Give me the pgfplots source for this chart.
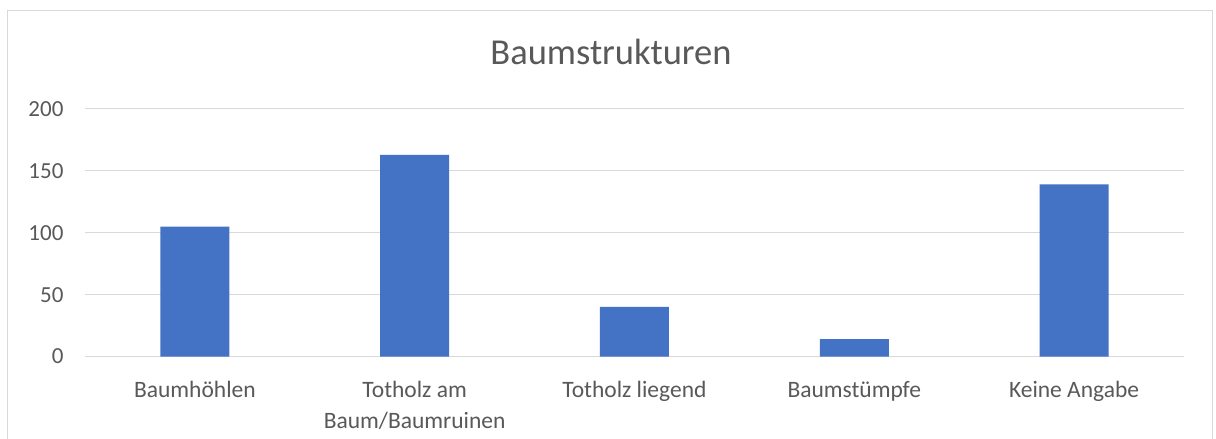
\documentclass[border=0pt]{standalone}
\usepackage{fontspec}
\setmainfont{Carlito}
\usepackage{pgfplots}
\pgfplotsset{compat=1.18}
\definecolor{barblue}{HTML}{4472C4}
\definecolor{txtgray}{HTML}{595959}
\definecolor{gridgray}{HTML}{D9D9D9}
\begin{document}
\begin{tikzpicture}[x=1pt,y=1pt]
\path[use as bounding box] (-85,-82.5) rectangle (1131,356.5);
\fill[white] (-85,-82.5) rectangle (1131,356.5);
\draw[gridgray, line width=1.2pt] (-77.5,-82.5) -- (-77.5,346) -- (1127.5,346) -- (1127.5,-82.5);
\begin{axis}[
  at={(0,0)}, anchor=south west,
  scale only axis, width=1099pt, height=247.5pt,
  ymin=0, ymax=200, ytick={0,50,...,200},
  xmin=-0.5, xmax=4.5, xtick={0,1,2,3,4},
  xticklabels={Baumhöhlen,{Totholz am\\Baum/Baumruinen},Totholz liegend,Baumstümpfe,Keine Angabe},
  axis line style={draw=none},
  ymajorgrids, grid style={gridgray, line width=1pt},
  major tick length=0pt,
  ybar, bar width=69pt,
  /pgf/number format/assume math mode=true,
  tick label style={text=txtgray},
  yticklabel style={anchor=east, xshift=-18pt, font=\fontsize{23}{28}\selectfont},
  xticklabel style={align=center, anchor=north, yshift=-21pt, font=\fontsize{23.5}{31}\selectfont},
]
\addplot[fill=barblue, draw=none] coordinates {(0,105) (1,163) (2,40) (3,14) (4,139)};
\end{axis}
\node[anchor=base, text=txtgray, font=\fontsize{36.5}{42}\selectfont, inner sep=0] at (526,292.2) {Baumstrukturen};
\end{tikzpicture}
\end{document}
